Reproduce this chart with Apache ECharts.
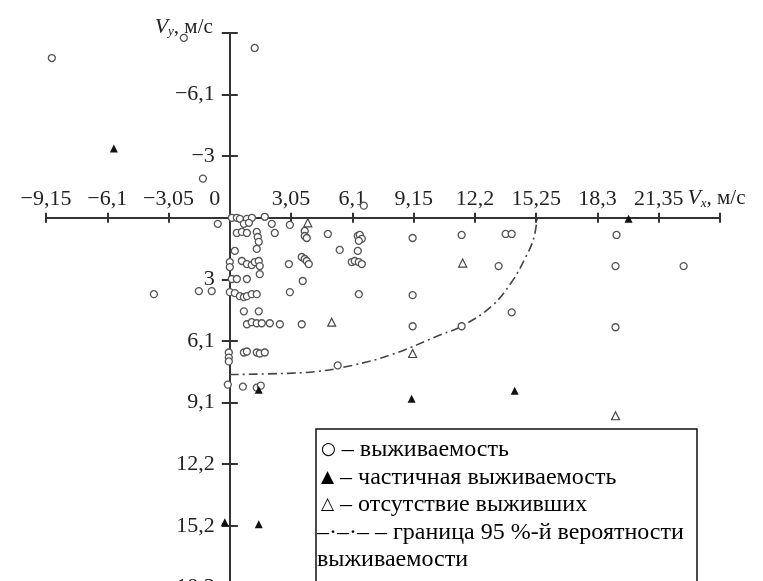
<!DOCTYPE html>
<html><head><meta charset="utf-8">
<script src="https://cdn.jsdelivr.net/npm/echarts@6/dist/echarts.min.js"></script>
<style>html,body{margin:0;padding:0;background:#fff}#c{width:763px;height:581px}</style>
</head><body><div id="c"></div>
<script>
// ---- data ----
const xTicks = [-9.15, -6.1, -3.05, 0, 3.05, 6.1, 9.15, 12.2, 15.25, 18.3, 21.35];
const xTickLabels = ['−9,15', '−6,1', '−3,05', '0', '3,05', '6,1', '9,15', '12,2', '15,25', '18,3', '21,35'];
const yTicks = [-6.1, -3.05, 3.05, 6.1, 9.15, 12.2, 15.25, 18.3];
const yTickLabels = ['−6,1', '−3', '3', '6,1', '9,1', '12,2', '15,2', '18,3'];

// survival (open circles) [Vx, Vy]
const survived = [
  [-8.86,-7.91],[-2.29,-8.91],[1.24,-8.41],[-1.34,-1.94],[6.67,-0.60],[-0.60,0.30],
  [0.10,0.00],[0.35,0.00],[0.50,0.05],[0.85,0.05],[1.10,0.00],[1.74,-0.05],
  [0.70,0.30],[0.95,0.25],[2.09,0.30],[2.99,0.35],[3.73,0.65],[3.73,0.90],[3.83,1.00],
  [2.24,0.75],[0.35,0.75],[0.60,0.70],[0.85,0.75],[1.34,0.70],[1.39,0.95],[1.44,1.19],[1.34,1.54],
  [4.88,0.80],[6.37,0.90],[6.47,0.85],[6.57,1.04],[6.42,1.14],[5.47,1.59],[6.37,1.64],
  [0.25,1.64],[0.00,2.19],[0.00,2.44],[0.60,2.14],[0.85,2.29],[1.09,2.34],[1.24,2.19],
  [1.44,2.14],[1.49,2.39],[1.49,2.79],[2.94,2.29],[3.58,1.94],[3.73,2.04],[3.83,2.14],[3.93,2.29],
  [6.07,2.19],[6.22,2.14],[6.42,2.19],[6.57,2.29],[3.63,3.13],[0.10,3.03],[0.35,3.03],[0.85,3.03],
  [-3.78,3.78],[-1.54,3.63],[-0.90,3.63],[0.00,3.68],[0.25,3.73],[0.50,3.88],[0.70,3.93],
  [0.85,3.88],[1.09,3.78],[1.34,3.78],[2.99,3.68],[6.42,3.78],[0.70,4.63],[1.44,4.63],
  [0.85,5.27],[1.09,5.17],[1.34,5.22],[1.59,5.22],[1.99,5.22],[2.49,5.27],[3.58,5.27],
  [-0.05,6.67],[-0.05,6.92],[-0.05,7.11],[0.70,6.67],[0.85,6.62],[1.34,6.67],[1.49,6.72],[1.74,6.67],
  [-0.10,8.26],[0.65,8.36],[1.34,8.41],[1.54,8.31],[5.37,7.31],
  [9.10,1.00],[11.54,0.85],[13.73,0.80],[14.03,0.80],[19.25,0.85],[13.38,2.39],[19.20,2.39],
  [22.59,2.39],[9.10,3.83],[14.03,4.68],[9.10,5.37],[11.54,5.37],[19.20,5.42]
];
// partial survival (filled triangles)
const partial = [
  [-5.77,-3.43],[19.85,0.05],[1.44,8.51],[9.05,8.96],[14.18,8.56],[-0.25,15.07],[1.44,15.17]
];
// no survivors (open triangles)
const none = [
  [3.88,0.25],[11.59,2.24],[5.07,5.17],[9.10,6.72],[19.20,9.80]
];
// 95% survival boundary
const boundary = [
  [0,7.76],[2.59,7.71],[4.33,7.61],[6.07,7.31],[8.06,6.77],[10.55,5.77],[11.54,5.37],
  [13.03,4.38],[14.03,3.18],[14.68,2.04],[15.12,1.04],[15.3,0]
];
const legendSymbols = ['○', '▲', '△', '', ''];
const legendLines = [
  ' – выживаемость',
  ' – частичная выживаемость',
  ' – отсутствие выживших',
  '–·–·– – граница 95 %-й вероятности',
  'выживаемости'
];

// ---- layout ----
const W = 763, H = 581;
const G = {left: 46, right: 43, top: 33, bottom: -68};
const X_MIN = -9.15, X_MAX = 24.4, Y_MIN = -9.15, Y_MAX = 21.35, STEP = 3.05;
const plotW = W - G.left - G.right, plotH = H - G.top - G.bottom;
const zeroX = G.left + (0 - X_MIN) / (X_MAX - X_MIN) * plotW;  // pixel of Vx = 0
const zeroY = G.top + (0 - Y_MIN) / (Y_MAX - Y_MIN) * plotH;   // pixel of Vy = 0

const FF = '"Liberation Serif", "Times New Roman", serif';
const axisCol = '#333';
function tickLabel(v, ticks, labels) {
  for (let i = 0; i < ticks.length; i++) if (Math.abs(v - ticks[i]) < 0.01) return labels[i];
  return '';
}
const nameRich = {
  v: {fontFamily: FF, fontSize: 22, fontStyle: 'italic', color: '#222'},
  s: {fontFamily: FF, fontSize: 13, fontStyle: 'italic', color: '#222', verticalAlign: 'bottom', padding: [10, 0, 0, 0]},
  n: {fontFamily: FF, fontSize: 21, color: '#222'}
};
const xBase = (gi) => ({type: 'value', gridIndex: gi, min: X_MIN, max: X_MAX, interval: STEP, splitLine: {show: false}});
const yBase = (gi) => ({type: 'value', gridIndex: gi, inverse: true, min: Y_MIN, max: Y_MAX, interval: STEP, splitLine: {show: false}});
const hidden = {show: false};
const line = {show: true, onZero: false, lineStyle: {color: axisCol, width: 2}};

const legendTexts = legendLines.map((t, i) => ({
  type: 'text', x: i < 3 ? 321 : 317, y: 450 + i * 27.5,
  style: {
    text: (legendSymbols[i] ? '{s|' + legendSymbols[i] + '}' : '') + '{t|' + t + '}',
    textVerticalAlign: 'middle',
    rich: {
      s: {fontFamily: '"DejaVu Sans", sans-serif', fontSize: 17, fontWeight: i === 0 ? 'bold' : 'normal', fill: '#000'},
      t: {fontFamily: FF, fontSize: 24, fill: '#000'}
    }
  }
}));

const chart = echarts.init(document.getElementById('c'), null, {renderer: 'canvas'});
chart.setOption({
  animation: false,
  backgroundColor: '#fff',
  grid: [
    {left: G.left, right: G.right, top: G.top, bottom: G.bottom, outerBoundsMode: 'none', containLabel: false},
    {left: G.left, right: G.right, top: zeroY, height: 50, outerBoundsMode: 'none', containLabel: false},
    {left: G.left, right: G.right, top: 0, height: zeroY, outerBoundsMode: 'none', containLabel: false},
    {left: zeroX, right: G.right, top: G.top, bottom: G.bottom, outerBoundsMode: 'none', containLabel: false},
    {left: 0, width: zeroX, top: G.top, bottom: G.bottom, outerBoundsMode: 'none', containLabel: false}
  ],
  xAxis: [
    Object.assign(xBase(0), hidden),
    Object.assign(xBase(1), {
      position: 'top',
      axisLine: line,
      axisTick: {length: 5, lineStyle: {color: axisCol, width: 2}},
      axisLabel: {
        margin: 8, color: '#222', fontFamily: FF, fontSize: 22,
        showMinLabel: true, showMaxLabel: true,
        formatter: v => {
          const t = tickLabel(v, xTicks, xTickLabels);
          return t === '0' ? '{z|0}' : t;
        },
        rich: {z: {fontFamily: FF, fontSize: 22, color: '#222', padding: [0, 30, 0, 0]}}
      },
      name: '{v|V}{s|x}{n|, м/с}',
      nameLocation: 'end', nameGap: -36,
      nameTextStyle: {align: 'left', verticalAlign: 'bottom', padding: [0, 0, 8, 0], rich: nameRich}
    }),
    Object.assign(xBase(2), {
      position: 'bottom',
      axisLine: line,
      axisTick: {length: 5, lineStyle: {color: axisCol, width: 2}},
      axisLabel: {show: false}
    }),
    Object.assign(xBase(3), hidden),
    Object.assign(xBase(4), hidden)
  ],
  yAxis: [
    Object.assign(yBase(0), hidden),
    Object.assign(yBase(1), hidden),
    Object.assign(yBase(2), hidden),
    Object.assign(yBase(3), {
      position: 'left',
      axisLine: line,
      axisTick: {length: 8, lineStyle: {color: axisCol, width: 2}},
      axisLabel: {
        margin: 15, color: '#222', fontFamily: FF, fontSize: 22,
        formatter: v => tickLabel(v, yTicks, yTickLabels)
      },
      name: '{v|V}{s|y}{n|, м/с}',
      nameLocation: 'start', nameGap: 6,
      nameTextStyle: {align: 'right', verticalAlign: 'middle', padding: [0, 17, 0, 0], rich: nameRich}
    }),
    Object.assign(yBase(4), {
      position: 'right',
      axisLine: line,
      axisTick: {length: 8, lineStyle: {color: axisCol, width: 2}},
      axisLabel: {show: false}
    })
  ],
  series: [
    {
      type: 'line', xAxisIndex: 0, yAxisIndex: 0, data: boundary, smooth: 0.4, symbol: 'none', z: 1,
      lineStyle: {color: '#444', width: 1.6, type: [9, 4, 2, 4]}
    },
    {
      type: 'scatter', xAxisIndex: 0, yAxisIndex: 0, data: survived, symbol: 'circle', symbolSize: 7, z: 3,
      itemStyle: {color: '#fff', borderColor: '#555', borderWidth: 1.3, opacity: 1}
    },
    {
      type: 'scatter', xAxisIndex: 0, yAxisIndex: 0, data: partial, symbol: 'triangle', symbolSize: 8, z: 3,
      itemStyle: {color: '#111', opacity: 1}
    },
    {
      type: 'scatter', xAxisIndex: 0, yAxisIndex: 0, data: none, symbol: 'triangle', symbolSize: 8, z: 3,
      itemStyle: {color: '#fff', borderColor: '#444', borderWidth: 1.2, opacity: 1}
    }
  ],
  graphic: [
    {
      type: 'group', z: 100,
      children: [
        {type: 'rect', x: 316, y: 429, shape: {width: 381, height: 200},
          style: {fill: '#fff', stroke: '#111', lineWidth: 1.5}}
      ].concat(legendTexts)
    }
  ]
});
</script></body></html>
